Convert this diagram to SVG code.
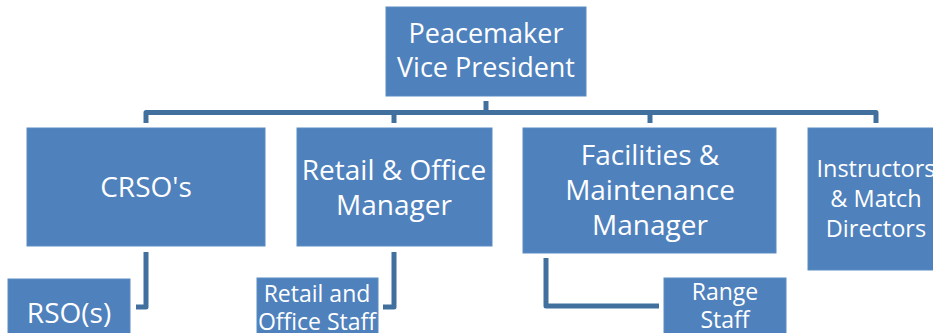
<svg xmlns="http://www.w3.org/2000/svg" width="933" height="333" viewBox="0 0 933 333">
<style>
.box{fill:#4F81BD;stroke:#5A8BC4;stroke-width:1}
.t{fill:#FFFFFF;font-family:"Open Sans","Liberation Sans",sans-serif;text-anchor:middle}
.c{fill:none;stroke:#41709F;stroke-width:5;stroke-linejoin:round}
</style>
<rect width="933" height="333" fill="#FFFFFF"/>
<g id="connectors">
<path class="c" d="M486,101 V112.5 M146,123 V112.5 H876 V123 M394,112.5 V123 M650,112.5 V123"/>
<path class="c" d="M146,252 V307 H136"/>
<path class="c" d="M394,252 V307 H383"/>
<path class="c" d="M546,258 V306 H659"/>
</g>
<g id="vp">
<rect class="box" x="386" y="7" width="200" height="89"/>
<text class="t" font-size="27" x="486" y="43">Peacemaker</text>
<text class="t" font-size="27" x="486" y="77">Vice President</text>
</g>
<g id="crso">
<rect class="box" x="27" y="128" width="238" height="118"/>
<text class="t" font-size="28" x="146" y="197">CRSO's</text>
</g>
<g id="retail">
<rect class="box" x="297" y="128" width="195" height="118"/>
<text class="t" font-size="28" x="394" y="180">Retail &amp; Office</text>
<text class="t" font-size="28" x="394" y="215">Manager</text>
</g>
<g id="facilities">
<rect class="box" x="523" y="128" width="253" height="125"/>
<text class="t" font-size="28" x="650" y="165">Facilities &amp;</text>
<text class="t" font-size="28" x="650" y="200">Maintenance</text>
<text class="t" font-size="28" x="650" y="235">Manager</text>
</g>
<g id="instructors">
<rect class="box" x="808" y="128" width="136" height="142"/>
<text class="t" font-size="23.5" x="876" y="177">Instructors</text>
<text class="t" font-size="23.5" x="876" y="207">&amp; Match</text>
<text class="t" font-size="23.5" x="876" y="237">Directors</text>
</g>
<g id="rso">
<rect class="box" x="8" y="279" width="122" height="60"/>
<text class="t" font-size="28" x="69" y="323">RSO(s)</text>
</g>
<g id="retailstaff">
<rect class="box" x="257" y="278" width="121" height="60"/>
<text class="t" font-size="23" x="317" y="302">Retail and</text>
<text class="t" font-size="23" x="317" y="330">Office Staff</text>
</g>
<g id="rangestaff">
<rect class="box" x="664" y="278" width="122" height="60"/>
<text class="t" font-size="23" x="725" y="300">Range</text>
<text class="t" font-size="23" x="725" y="328">Staff</text>
</g>
</svg>
